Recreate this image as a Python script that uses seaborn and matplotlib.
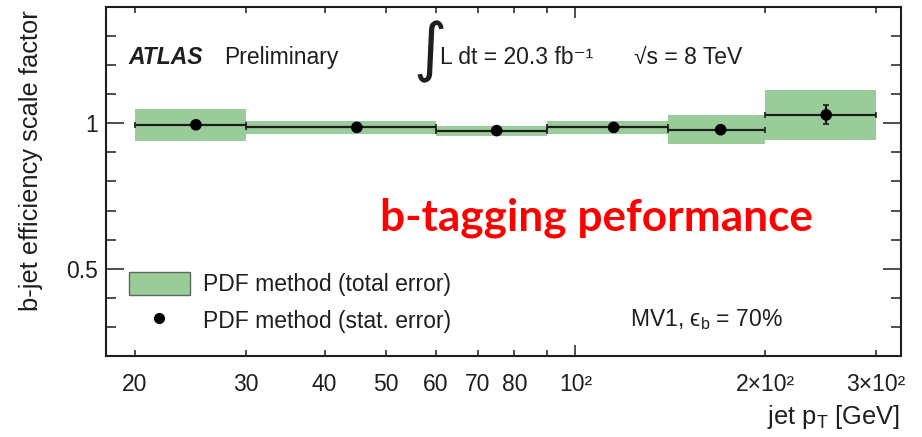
import matplotlib
matplotlib.use("Agg")
import matplotlib.pyplot as plt
from matplotlib.patches import Patch
from matplotlib.lines import Line2D
from matplotlib.ticker import FixedLocator, FixedFormatter
import pandas as pd
import seaborn as sns

# b-tagging scale factors per jet pT bin
bin_lo = [20, 30, 60, 90, 140, 200]
bin_hi = [30, 60, 90, 140, 200, 300]
pt_mean = [25, 45, 75, 115, 170, 250]
scale_factor = [0.995, 0.986, 0.975, 0.986, 0.978, 1.029]
total_err = [0.055, 0.023, 0.017, 0.023, 0.049, 0.087]
stat_err = [0.005, 0.004, 0.004, 0.005, 0.008, 0.033]

major_x = [100]
major_x_labels = ["10²"]
minor_x = [20, 30, 40, 50, 60, 70, 80, 90, 200, 300]
minor_x_labels = ["20", "30", "40", "50", "60", "70", "80", "", "2×10²", "3×10²"]

sns.set_theme(style="ticks")
plt.rcParams["font.family"] = ["Liberation Sans", "DejaVu Sans"]
plt.rcParams["mathtext.fontset"] = "custom"
plt.rcParams["mathtext.rm"] = "Liberation Sans"
plt.rcParams["mathtext.it"] = "Liberation Sans:italic"
plt.rcParams["mathtext.bf"] = "Liberation Sans:bold"

W, H = 922, 437
fig = plt.figure(figsize=(W / 100, H / 100), dpi=100)
fig.patch.set_facecolor("white")
ax = fig.add_axes([106 / W, 1 - 356 / H, (901 - 106) / W, (356 - 7) / H])
ax.set_facecolor("white")

GREEN = "#99cc99"
INK = "#1e1e1e"
FS = 16.5
TITLE_FS = 18.4

def fx(x):
    return x / W

def fy(y):
    return 1 - y / H

df = pd.DataFrame({"pt": pt_mean, "sf": scale_factor})

# total-error bands
widths = [h - l for l, h in zip(bin_lo, bin_hi)]
ax.bar(bin_lo, [2 * e for e in total_err], width=widths,
       bottom=[v - e for v, e in zip(scale_factor, total_err)],
       align="edge", color=GREEN, linewidth=0, zorder=1)

# bin widths and statistical errors
xerr = [[m - l for m, l in zip(pt_mean, bin_lo)], [h - m for m, h in zip(pt_mean, bin_hi)]]
ax.errorbar(pt_mean, scale_factor, xerr=xerr, yerr=stat_err, fmt="none",
            ecolor=INK, elinewidth=1.6, capsize=2.2, capthick=1.2, zorder=2)
sns.scatterplot(data=df, x="pt", y="sf", ax=ax, color="black", s=70,
                edgecolor="none", zorder=3, legend=False)

ax.set_xscale("log")
ax.set_xlim(18.0, 328.5)
ax.set_ylim(0.2, 1.4)

ax.xaxis.set_major_locator(FixedLocator(major_x))
ax.xaxis.set_major_formatter(FixedFormatter(major_x_labels))
ax.xaxis.set_minor_locator(FixedLocator(minor_x))
ax.xaxis.set_minor_formatter(FixedFormatter(minor_x_labels))
ax.yaxis.set_major_locator(FixedLocator([0.5, 1.0]))
ax.yaxis.set_major_formatter(FixedFormatter(["0.5", "1"]))
ax.yaxis.set_minor_locator(FixedLocator([0.3, 0.4, 0.6, 0.7, 0.8, 0.9, 1.1, 1.2, 1.3]))

ax.tick_params(axis="x", which="both", direction="in", top=True, bottom=True,
               labelsize=FS, labelcolor=INK, color=INK, width=1.1, pad=12)
ax.tick_params(axis="x", which="major", length=8)
ax.tick_params(axis="x", which="minor", length=4.5)
ax.tick_params(axis="y", which="both", direction="in", left=True, right=True,
               labelsize=FS, labelcolor=INK, color=INK, width=1.1, pad=6)
ax.tick_params(axis="y", which="major", length=13)
ax.tick_params(axis="y", which="minor", length=7.5)
for sp in ax.spines.values():
    sp.set_linewidth(1.5)
    sp.set_color(INK)

ax.set_xlabel(r"jet p$_{\rm T}$ [GeV]", fontsize=TITLE_FS, color=INK, ha="right", va="top")
ax.xaxis.set_label_coords(fx(900), fy(403), transform=fig.transFigure)
ax.set_ylabel("b-jet efficiency scale factor", fontsize=TITLE_FS, color=INK,
              ha="right", va="center", rotation_mode="anchor")
ax.yaxis.set_label_coords(fx(31), fy(10), transform=fig.transFigure)

# legend
handles = [Patch(facecolor=GREEN, edgecolor="#5a6a5a", linewidth=1.0),
           Line2D([], [], marker="o", ls="none", color="black", markersize=7)]
labels = ["PDF method (total error)", "PDF method (stat. error)"]
leg = ax.legend(handles, labels, loc="upper left", frameon=False,
                bbox_to_anchor=(fx(129), fy(272)), bbox_transform=fig.transFigure,
                fontsize=FS, borderpad=0, borderaxespad=0,
                handlelength=2.66, handleheight=1.14, handletextpad=0.55,
                labelspacing=0.55)
for t in leg.get_texts():
    t.set_color(INK)

# annotations
fig.text(fx(128), fy(64), "ATLAS", fontsize=FS, fontweight="bold", fontstyle="italic",
         color=INK, va="baseline")
fig.text(fx(224), fy(64), "Preliminary", fontsize=FS, color=INK, va="baseline")
fig.text(fx(413), fy(52), "∫", fontsize=46, color=INK, va="center",
         family=["DejaVu Sans"])
fig.text(fx(440), fy(64), "L dt = 20.3 fb⁻¹", fontsize=FS, color=INK, va="baseline")
fig.text(fx(634), fy(64), "√s = 8 TeV", fontsize=FS, color=INK, va="baseline")
fig.text(fx(630), fy(326), r"MV1, ϵ$_{\rm b}$ = 70%", fontsize=FS, color=INK, va="baseline")
fig.text(fx(596), fy(230), "b-tagging peformance", fontsize=31.8, fontweight="bold",
         color="#ff0000", ha="center", va="baseline", family=["Lato", "DejaVu Sans"])

fig.savefig("out.png", dpi=100, facecolor="white")
